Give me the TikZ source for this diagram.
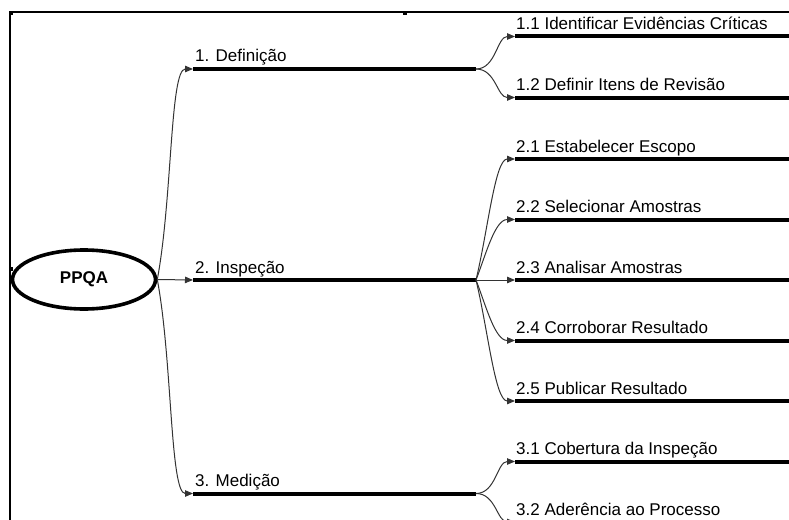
\documentclass[tikz,border=0pt]{standalone}
\usepackage{fontspec}
\setmainfont{Liberation Sans}
\usetikzlibrary{shapes.geometric,arrows.meta,calc}
\begin{document}
\begin{tikzpicture}[x=1pt,y=-1pt,
  bar/.style={line width=4pt},
  conn/.style={line width=1pt, draw=black!80, -{Triangle[length=8pt,width=6.5pt]}},
  lbl/.style={anchor=base west, inner sep=0pt, font=\fontsize{17}{20}\selectfont},
  frameline/.style={line width=1.3pt},
  marksq/.style={fill=black, minimum size=3.5pt, inner sep=0pt}]
\useasboundingbox (0,0) rectangle (789,519);
\begin{scope}
\clip (0,0) rectangle (789,519);
% frame
\draw[frameline] (10,525) -- (10,12) -- (795,12);
\node[marksq] (mk1) at (11.5,13) {};
\node[marksq] (mk2) at (405,13.5) {};
\node[marksq] (mk3) at (11.5,269) {};
% root
\node[ellipse, draw, line width=3.6pt, minimum width=143pt, minimum height=59pt, inner sep=0pt,
      font=\bfseries\fontsize{17}{20}\selectfont] (P) at (84,279.5) {PPQA};
% level 1 bars
\coordinate (d0) at (193,69);    \coordinate (d1) at (476,69);
\coordinate (i0) at (193,280);   \coordinate (i1) at (476,280);
\coordinate (m0) at (193,493.5); \coordinate (m1) at (476,493.5);
\draw[bar] (d0) -- (d1);
\draw[bar] (i0) -- (i1);
\draw[bar] (m0) -- (m1);
\node[lbl] (dl) at ($(d0)+(2,-7)$) {1. Definição};
\node[lbl] (il) at ($(i0)+(2,-7)$) {2. Inspeção};
\node[lbl] (ml) at ($(m0)+(2,-7)$) {3. Medição};
% level 2 bars
\foreach \n/\y in {a11/36.5, a12/97.5, a21/159, a22/219.5, a23/280, a24/340.5, a25/401, a31/461.5, a32/522}{
  \coordinate (\n) at (515,\y);
  \coordinate (\n e) at (800,\y);
  \draw[bar] (\n) -- (\n e);
}
\node[lbl] (l11) at ($(a11)+(1,-7)$) {1.1 Identificar Evidências Críticas};
\node[lbl] (l12) at ($(a12)+(1,-7)$) {1.2 Definir Itens de Revisão};
\node[lbl] (l21) at ($(a21)+(1,-7)$) {2.1 Estabelecer Escopo};
\node[lbl] (l22) at ($(a22)+(1,-7)$) {2.2 Selecionar Amostras};
\node[lbl] (l23) at ($(a23)+(1,-7)$) {2.3 Analisar Amostras};
\node[lbl] (l24) at ($(a24)+(1,-7)$) {2.4 Corroborar Resultado};
\node[lbl] (l25) at ($(a25)+(1,-7)$) {2.5 Publicar Resultado};
\node[lbl] (l31) at ($(a31)+(1,-7)$) {3.1 Cobertura da Inspeção};
\node[lbl] (l32) at ($(a32)+(1,-7)$) {3.2 Aderência ao Processo};
% connectors root -> level 1
\draw[conn] (P.east) .. controls +(15,-80) and +(-23,0) .. (d0);
\draw[conn] (P.east) -- (i0);
\draw[conn] (P.east) .. controls +(15,80) and +(-23,0) .. (m0);
% level 1 -> level 2
\draw[conn] (d1) .. controls +(20,0) and +(-18,0) .. (a11);
\draw[conn] (d1) .. controls +(20,0) and +(-18,0) .. (a12);
\draw[conn] (i1) .. controls +(12,-50) and +(-20,0) .. (a21);
\draw[conn] (i1) .. controls +(10,-26) and +(-20,0) .. (a22);
\draw[conn] (i1) -- (a23);
\draw[conn] (i1) .. controls +(10,26) and +(-20,0) .. (a24);
\draw[conn] (i1) .. controls +(12,50) and +(-20,0) .. (a25);
\draw[conn] (m1) .. controls +(20,0) and +(-18,0) .. (a31);
\draw[conn] (m1) .. controls +(20,0) and +(-18,0) .. (a32);
\end{scope}
\end{tikzpicture}
\end{document}
